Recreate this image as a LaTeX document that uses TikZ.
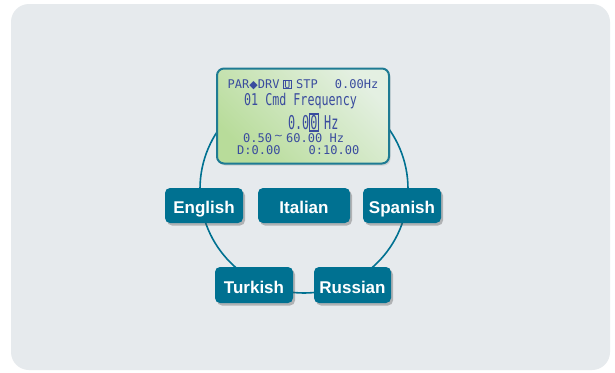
\documentclass[tikz,border=0pt]{standalone}
\usepackage{fontspec}
\usepackage{graphicx}
\setmainfont{Liberation Sans}
\newfontfamily\lcdfont{DejaVu Sans Mono}
\newfontfamily\symfont{DejaVu Sans}
\usetikzlibrary{shadows}
\definecolor{panelbg}{HTML}{E6EAED}
\definecolor{teal}{HTML}{007191}
\definecolor{lcdborder}{HTML}{1E7B93}
\definecolor{lcdtext}{HTML}{3A4C9E}
\definecolor{lcdA}{HTML}{B8DC9A}
\definecolor{lcdB}{HTML}{E4F0E2}
\tikzset{
  langbox/.style={fill=teal, rounded corners=5pt, text=white,
    font=\fontsize{17}{17}\selectfont\bfseries, minimum height=35pt,
    minimum width=78pt, inner sep=0pt, text height=16pt, text depth=0pt,
    drop shadow={shadow xshift=2pt, shadow yshift=-2.5pt, opacity=0.35, fill=black!70}},
  ring/.style={draw=teal, line width=1.6pt},
  lcdtxt/.style={text=lcdtext, inner sep=0pt, font=\lcdfont\fontsize{12}{12}\selectfont},
}
\begin{document}
\begin{tikzpicture}[x=1pt,y=-1pt]
\useasboundingbox (0,0) rectangle (615,372);
\fill[white] (0,0) rectangle (615,372);
\fill[panelbg, rounded corners=18pt] (11,4) rectangle (610,370);

% ring
\coordinate (ringc) at (304,189);
\draw[ring] (ringc) circle[radius=104];

% LCD
\node[draw=lcdborder, line width=2pt, rounded corners=7pt,
  bottom color=lcdA, top color=lcdB, shading angle=-45,
  minimum width=172pt, minimum height=95pt, inner sep=0pt,
  drop shadow={shadow xshift=1.5pt, shadow yshift=-2pt, opacity=0.2, fill=black!60}]
  (lcd) at (303,116) {};

\node[lcdtxt, anchor=west] (l1a) at (227.5,84.5) {PAR{\symfont\fontsize{11}{11}\selectfont ◆}DRV};
\node[lcdtxt, draw=lcdtext, line width=0.9pt, inner sep=0.6pt,
  font=\lcdfont\fontsize{10}{10}\selectfont] (l1b) at (287.5,84.5) {U};
\node[lcdtxt, anchor=west] (l1c) at (296,84.5) {STP};
\node[lcdtxt, anchor=east] (l1d) at (378.5,84.5) {0.00Hz};

\node[lcdtxt] (l2) at (300.5,101.5) {\scalebox{0.78}[1.08]{\fontsize{15}{15}\selectfont 01 Cmd Frequency}};

\node[lcdtxt, anchor=east] (l3a) at (309.5,122.5) {\scalebox{0.62}[1]{\fontsize{19}{19}\selectfont 0.0}};
\node[lcdtxt, draw=lcdtext, line width=1.1pt, minimum width=8.5pt, minimum height=17pt] (l3b) at (314,122.5) {\scalebox{0.62}[1]{\fontsize{19}{19}\selectfont 0}};
\node[lcdtxt, anchor=west] (l3c) at (324,122.5) {\scalebox{0.62}[1]{\fontsize{19}{19}\selectfont Hz}};

\node[lcdtxt, anchor=west] (l4a) at (243,138.5) {0.50};
\node[lcdtxt] (l4b) at (278.5,137.5) {\fontsize{11}{11}\selectfont\symfont\char"007E};
\node[lcdtxt, anchor=west] (l4c) at (286,138.5) {60.00 Hz};

\node[lcdtxt, anchor=west] (l5a) at (237,150.5) {D:0.00};
\node[lcdtxt, anchor=east] (l5b) at (359.5,150.5) {0:10.00};

% language boxes
\node[langbox] (english) at (204,205.5) {English};
\node[langbox, minimum width=92pt] (italian) at (304,205.5) {Italian};
\node[langbox] (spanish) at (402,205.5) {Spanish};
\node[langbox, minimum height=36pt] (turkish) at (254,285) {Turkish};
\node[langbox, minimum height=36pt, minimum width=77pt] (russian) at (352.5,285) {Russian};
\end{tikzpicture}
\end{document}
